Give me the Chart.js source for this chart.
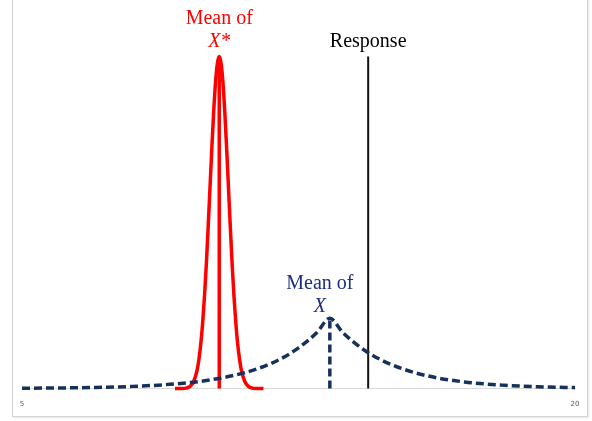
<!DOCTYPE html>
<html>
<head>
<meta charset="utf-8">
<script src="https://cdn.jsdelivr.net/npm/chart.js@4/dist/chart.umd.min.js"></script>
<style>
  html, body { margin: 0; padding: 0; background: #fff; }
  #frame {
    position: absolute; left: 12px; top: -4px; width: 574px; height: 419px;
    border: 1px solid #d4d4d4; box-shadow: 1px 1px 2px #e6e6e6;
  }
  #wrap { position: absolute; left: 0; top: 0; width: 592px; height: 421px; }
</style>
</head>
<body>
<div id="frame"></div>
<div id="wrap"><canvas id="chart"></canvas></div>
<script>
// Distribution of X* (narrow, red), peak scaled to 100
const redX = [9.15, 9.35, 9.45, 9.55, 9.65, 9.75, 9.80, 9.85, 9.90, 9.95, 10.00, 10.05, 10.10, 10.15, 10.20, 10.25, 10.30,
  10.35, 10.40, 10.45, 10.50, 10.55, 10.60, 10.65, 10.70, 10.75, 10.80, 10.85, 10.90, 10.95, 11.05, 11.15, 11.25, 11.35, 11.55];
const redY = [0, 0.03, 0.15, 0.6, 2.0, 5.6, 8.9, 13.5, 19.8, 27.8, 37.5, 48.7, 60.7, 72.6, 83.5, 92.3, 98.0,
  100, 98.0, 92.3, 83.5, 72.6, 60.7, 48.7, 37.5, 27.8, 19.8, 13.5, 8.9, 5.6, 2.0, 0.6, 0.15, 0.03, 0];

// Distribution of X (wide, dashed navy)
const blueX = [5, 6, 7, 8, 9, 10, 11, 11.5, 12, 12.5, 13, 13.35, 13.7, 14.2, 14.7, 15.2, 16, 17, 18, 19, 20];
const blueY = [0.1, 0.19, 0.35, 0.67, 1.28, 2.44, 4.66, 6.43, 8.87, 12.25, 16.9, 21.2, 16.9, 12.25, 8.87, 6.43, 3.83, 2.01, 1.06, 0.55, 0.29];

// markers
const meanXStar = 10.35, meanXStarTop = 100;
const meanX = 13.35, meanXTop = 21.2;
const response = 14.39, responseTop = 100;

const xTicks = [5, 20];

const toPts = (xs, ys) => xs.map((x, i) => ({ x: x, y: ys[i] }));

const red = '#ff0000';
const navy = '#16325c';

// text labels drawn above the marks
const labelPlugin = {
  id: 'labels',
  afterDatasetsDraw(chart) {
    const ctx = chart.ctx;
    const xs = chart.scales.x, ys = chart.scales.y;
    ctx.save();
    ctx.textAlign = 'center';
    ctx.textBaseline = 'alphabetic';
    const put = (txt, x, yVal, dy, color, italic) => {
      ctx.font = (italic ? 'italic ' : '') + "20px 'Liberation Serif', 'Times New Roman', serif";
      ctx.fillStyle = color;
      ctx.fillText(txt, xs.getPixelForValue(x), ys.getPixelForValue(yVal) + dy);
    };
    put('Mean of', meanXStar, meanXStarTop, -33, red, false);
    put('X*', meanXStar, meanXStarTop, -10, red, true);
    put('Response', response, responseTop, -10, '#000', false);
    put('Mean of', meanX - 0.27, meanXTop, -29, '#1f2d80', false);
    put('X', meanX - 0.27, meanXTop, -6, '#1f2d80', true);
    ctx.restore();
  }
};

new Chart(document.getElementById('chart'), {
  type: 'scatter',
  data: {
    datasets: [
      {
        data: toPts(blueX, blueY), showLine: true, borderColor: navy, borderWidth: 3.5,
        borderDash: [8, 4], pointRadius: 0, cubicInterpolationMode: 'monotone'
      },
      {
        data: toPts([meanX, meanX], [0, meanXTop]), showLine: true, borderColor: navy, borderWidth: 3.5,
        borderDash: [8, 4], pointRadius: 0
      },
      {
        data: toPts(redX, redY), showLine: true, borderColor: red, borderWidth: 3.5,
        pointRadius: 0, cubicInterpolationMode: 'monotone'
      },
      {
        data: toPts([meanXStar, meanXStar], [0, meanXStarTop]), showLine: true, borderColor: red, borderWidth: 3.5,
        pointRadius: 0
      },
      {
        data: toPts([response, response], [0, responseTop]), showLine: true, borderColor: '#111', borderWidth: 2,
        pointRadius: 0
      }
    ]
  },
  options: {
    responsive: true,
    maintainAspectRatio: false,
    animation: false,
    clip: false,
    layout: { padding: { left: 22, right: 17, top: 40, bottom: 2 } },
    plugins: { legend: { display: false }, tooltip: { enabled: false } },
    scales: {
      x: {
        type: 'linear', min: 5, max: 20,
        afterBuildTicks: s => { s.ticks = xTicks.map(v => ({ value: v })); },
        grid: { display: false, drawTicks: false },
        border: { display: true, color: '#d9d9d9', width: 1 },
        ticks: { padding: 11, color: '#595959', font: { size: 7, family: 'DejaVu Sans' }, maxRotation: 0 }
      },
      y: { display: false, min: 0, max: 105 }
    }
  },
  plugins: [labelPlugin]
});
</script>
</body>
</html>
